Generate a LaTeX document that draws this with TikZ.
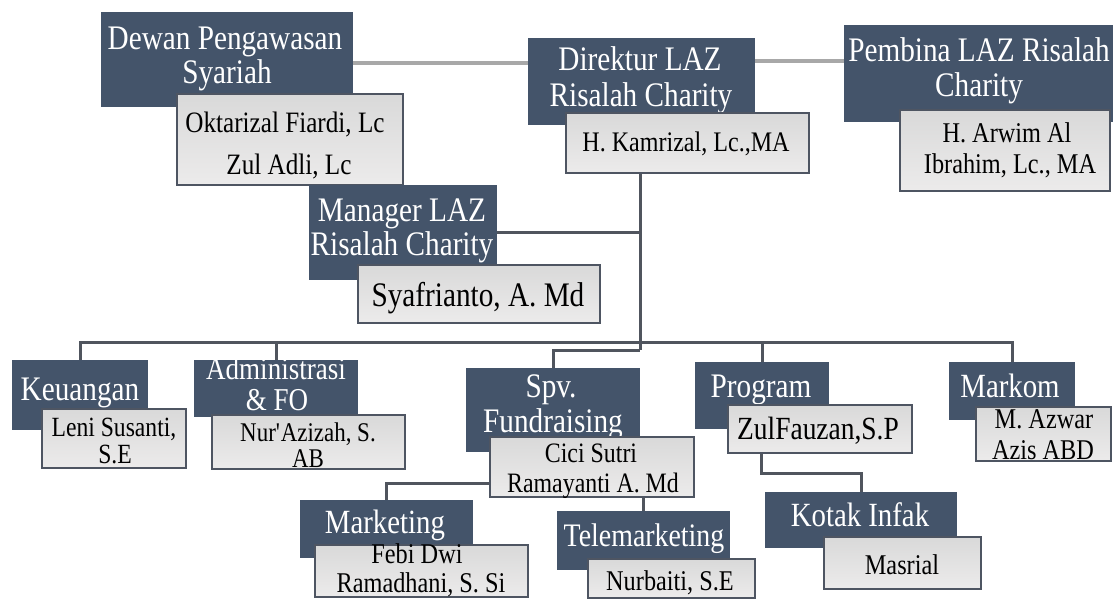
\documentclass[tikz,border=0pt]{standalone}
\usepackage{fontspec}
\setmainfont{Liberation Serif}[FakeStretch=0.85]
\definecolor{navy}{HTML}{44546A}
\definecolor{bordc}{HTML}{4E5562}
\definecolor{ltop}{HTML}{D9D9D9}
\definecolor{lmid}{HTML}{E9E8E8}
\definecolor{lbot}{HTML}{ECEBEB}
\definecolor{clin}{HTML}{50555E}
\definecolor{glin}{HTML}{A8A8A8}
\pgfdeclarelayer{back}
\pgfsetlayers{back,main}
\tikzset{
  dbox/.style={draw=none, fill=navy, inner sep=0pt, outer sep=0pt, anchor=north west},
  lbox/.style={draw=bordc, line width=2.2bp, top color=ltop, middle color=lmid, bottom color=lbot, inner sep=0pt, outer sep=0pt, anchor=north west},
  ht/.style={text=white, inner sep=0pt, anchor=base, font=\fontsize{#1bp}{#1bp}\selectfont},
  nt/.style={text=black, inner sep=0pt, anchor=base, font=\fontsize{#1bp}{#1bp}\selectfont},
  cline/.style={draw=clin, line width=3bp},
  gline/.style={draw=glin, line width=3.5bp},
}
% box: style, x1, y1, x2, y2, name
\newcommand\mybox[6]{\node[#1, minimum width={(#4-#2)*1bp}, minimum height={(#5-#3)*1bp}] (#6) at (#2,#3) {};}
\begin{document}
\begin{tikzpicture}[x=1bp,y=-1bp]
\useasboundingbox (0,0) rectangle (1113,600);
\begin{pgfonlayer}{back}
\fill[white] (0,0) rectangle (1113,600);
\end{pgfonlayer}
% junctions
\coordinate (gl1) at (0,63);
\coordinate (gl2) at (0,61);
\coordinate (j1) at (640,342);
\coordinate (j2) at (640,350);
\coordinate (jk) at (761,473);

% ---- Dewan
\mybox{dbox}{101}{12}{353}{107}{dewan}
\node[ht=34.4] (t1) at (225,50) {Dewan Pengawasan};
\node[ht=34.4] (t2) at (227,84) {Syariah};
\mybox{lbox}{177}{94}{403}{185}{okt}
\node[nt=29.6] (t3) at (285,133) {Oktarizal Fiardi, Lc};
\node[nt=29.6] (t4) at (289,175) {Zul Adli, Lc};
% ---- Direktur
\mybox{dbox}{528}{38}{755}{125}{dir}
\node[ht=34.4] (t5) at (640,71) {Direktur LAZ};
\node[ht=34.4] (t6) at (641,107) {Risalah Charity};
\mybox{lbox}{566}{113}{809}{173}{kam}
\node[nt=28.3] (t7) at (686,152) {H. Kamrizal, Lc.,MA};
% ---- Pembina
\mybox{dbox}{844}{25}{1113}{122}{pemb}
\node[ht=34.4] (t8) at (979,62) {Pembina LAZ Risalah};
\node[ht=34.4] (t9) at (979,97) {Charity};
\mybox{lbox}{900}{110}{1110}{191}{arw}
\node[nt=28.6] (t10) at (1007,143) {H. Arwim Al};
\node[nt=28.6] (t11) at (1010,174) {Ibrahim, Lc., MA};
% ---- Manager
\mybox{dbox}{309}{185}{497}{280}{mgr}
\node[ht=34.4] (t12) at (402,222) {Manager LAZ};
\node[ht=34.4] (t13) at (402,256) {Risalah Charity};
\mybox{lbox}{358}{265}{600}{323}{syaf}
\node[nt=34.4] (t14) at (478,307) {Syafrianto, A. Md};
% ---- Keuangan
\mybox{dbox}{12}{360}{148}{430}{keu}
\node[ht=34.4] (t15) at (80,400) {Keuangan};
\mybox{lbox}{42}{409}{186}{468}{leni}
\node[nt=27.8] (t16) at (114,436) {Leni Susanti,};
\node[nt=27.8] (t17) at (115,463) {S.E};
% ---- Administrasi
\mybox{dbox}{194}{360}{358}{417}{adm}
\begin{scope}
\clip (194,360) rectangle (358,417);
\node[ht=31.8] (t18) at (276,379) {Administrasi};
\end{scope}
\node[ht=31.8] (t19) at (277,410) {\& FO};
\mybox{lbox}{212}{415}{405}{469}{nur}
\node[nt=27] (t20) at (308,441) {Nur\textquotesingle Azizah, S.};
\node[nt=27] (t21) at (308,467) {AB};
% ---- Spv
\mybox{dbox}{466}{368}{640}{452}{spv}
\node[ht=34.4] (t22) at (551,397) {Spv.};
\node[ht=34.4] (t23) at (553,432) {Fundraising};
\mybox{lbox}{490}{437}{694}{497}{cici}
\node[nt=28.1] (t24) at (591,462) {Cici Sutri};
\node[nt=28.1] (t25) at (593,492) {Ramayanti A. Md};
% ---- Program
\mybox{dbox}{695}{362}{829}{429}{prog}
\node[ht=34.4] (t26) at (761,397) {Program};
\mybox{lbox}{728}{405}{912}{453}{zul}
\node[nt=32.3] (t27) at (818,439) {ZulFauzan,S.P};
% ---- Markom
\mybox{dbox}{949}{362}{1075}{420}{mark}
\node[ht=33.9] (t28) at (1010,397) {Markom};
\mybox{lbox}{976}{407}{1111}{461}{azw}
\node[nt=28.6] (t29) at (1044,428) {M. Azwar};
\node[nt=28.6] (t30) at (1043,459) {Azis ABD};
% ---- Marketing
\mybox{dbox}{300}{500}{473}{558}{mkt}
\node[ht=33.9] (t31) at (385,533) {Marketing};
\mybox{lbox}{315}{545}{528}{597}{febi}
\node[nt=28.6] (t32) at (417,563) {Febi Dwi};
\node[nt=28.6] (t33) at (421,592) {Ramadhani, S. Si};
% ---- Telemarketing
\mybox{dbox}{557}{511}{730}{570}{tele}
\node[ht=32.8] (t34) at (644,546) {Telemarketing};
\mybox{lbox}{588}{559}{755}{598}{nurb}
\node[nt=28.6] (t35) at (670,590) {Nurbaiti, S.E};
% ---- Kotak Infak
\mybox{dbox}{765}{492}{957}{548}{kotak}
\node[ht=33.9] (t36) at (860,526) {Kotak Infak};
\mybox{lbox}{824}{537}{981}{589}{mas}
\node[nt=28.6] (t37) at (902,574) {Masrial};

% ---- connectors (behind)
\begin{pgfonlayer}{back}
\draw[gline] (dewan.east |- gl1) -- (dir.west |- gl1);
\draw[gline] (dir.east |- gl2) -- (pemb.west |- gl2);
\draw[cline] (kam.south -| j1) -- (j2);
\draw[cline] (mgr.east) -- (mgr.east -| j1);
\draw[cline] (keu.north) |- (j1);
\draw[cline] (adm.north) |- (j1);
\draw[cline] (prog.north) |- (j1);
\draw[cline] (mark.north) |- (j1);
\draw[cline] (spv.north) |- (j2);
\draw[cline] (mkt.north) |- ([yshift=-16bp]cici.west);
\draw[cline] (tele.north) -- (tele.north |- cici.south);
\draw[cline] (zul.south -| jk) -- (jk) -| (kotak.north);
\end{pgfonlayer}
\end{tikzpicture}
\end{document}
